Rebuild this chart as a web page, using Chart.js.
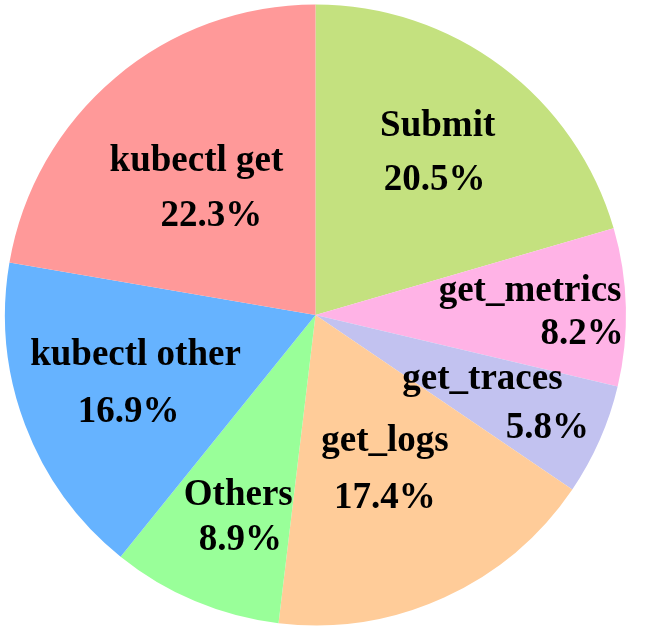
<!DOCTYPE html>
<html>
<head>
<meta charset="utf-8">
<script src="https://cdn.jsdelivr.net/npm/chart.js@4"></script>
<style>
  html, body { margin: 0; padding: 0; background: #ffffff; }
  #wrap { width: 665px; height: 632px; }
</style>
</head>
<body>
<div id="wrap"><canvas id="pie" width="665" height="632"></canvas></div>
<script>
// slice data (clockwise from 12 o'clock)
const categories = ['Submit', 'get_metrics', 'get_traces', 'get_logs', 'Others', 'kubectl other', 'kubectl get'];
const shares = [20.5, 8.2, 5.8, 17.4, 8.9, 16.9, 22.3];
const sliceColors = ['#c4e17f', '#ffb3e6', '#c2c2f0', '#ffcc99', '#99ff99', '#66b3ff', '#ff9999'];

// label placement: fraction of radius along the slice mid-angle, nudges for name / pct, line gap
const labelLayout = [
    { r: 0.65,  dy: 0, nameDx: 1,   pctDx: -2, gap: 54 },
    { r: 0.775, dy: 4, nameDx: -26, pctDx: 26, gap: 43 },
    { r: 0.70,  dy: 1, nameDx: -32, pctDx: 33, gap: 49 },
    { r: 0.54,  dy: 2, nameDx: 0,   pctDx: 0,  gap: 57 },
    { r: 0.69,  dy: 6, nameDx: 6,   pctDx: 8,  gap: 45 },
    { r: 0.63,  dy: 0, nameDx: 3,   pctDx: -4, gap: 57 },
    { r: 0.56,  dy: 7, nameDx: -7,  pctDx: 8,  gap: 55 }
];

// 조각 위에 이름 + 퍼센트 그리기
const sliceLabels = {
    id: 'sliceLabels',
    afterDatasetsDraw(chart) {
        const ctx = chart.ctx;
        const arcs = chart.getDatasetMeta(0).data;
        ctx.save();
        ctx.fillStyle = '#000000';
        ctx.font = 'bold 37px "Liberation Serif", "Times New Roman", serif';
        ctx.textAlign = 'center';
        ctx.textBaseline = 'middle';
        arcs.forEach((arc, i) => {
            const p = arc.getProps(['x', 'y', 'startAngle', 'endAngle', 'outerRadius'], true);
            const mid = (p.startAngle + p.endAngle) / 2;
            const lay = labelLayout[i];
            const ax = p.x + Math.cos(mid) * p.outerRadius * lay.r;
            const ay = p.y + Math.sin(mid) * p.outerRadius * lay.r + lay.dy;
            ctx.fillText(categories[i], ax + lay.nameDx, ay - lay.gap / 2);
            ctx.fillText(shares[i].toFixed(1) + '%', ax + lay.pctDx, ay + lay.gap / 2);
        });
        ctx.restore();
    }
};

const chart = new Chart(document.getElementById('pie').getContext('2d'), {
    type: 'pie',
    data: {
        labels: categories,
        datasets: [{
            data: shares,
            backgroundColor: sliceColors,
            borderWidth: 0
        }]
    },
    options: {
        responsive: false,
        animation: false,
        rotation: 0,
        layout: { padding: { top: 4, bottom: 6, left: 5, right: 39 } },
        plugins: {
            legend: { display: false },
            tooltip: { enabled: false }
        }
    },
    plugins: [sliceLabels]
});
</script>
</body>
</html>
